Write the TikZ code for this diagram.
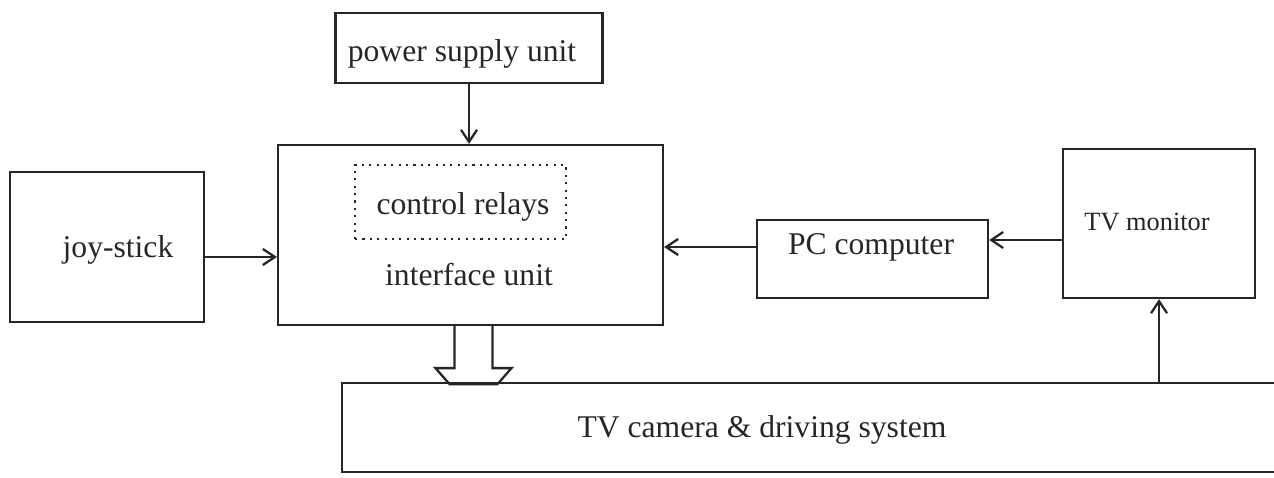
\documentclass[tikz,border=0pt]{standalone}
\usepackage{fontspec}
\setmainfont{Liberation Serif}
\usetikzlibrary{arrows.meta}
\begin{document}
\begin{tikzpicture}[x = .02cm, y = -.02cm, line width = 1.3pt, color = black!85,
		box/.style = {draw, rectangle, inner sep = 0pt, font = \fontsize{18}{20}\selectfont},
		txt/.style = {inner sep = 0pt, font = \fontsize{18}{20}\selectfont},
		arr/.style = {-{Straight Barb[length = 2.4mm, width = 3.2mm]}}]
				\useasboundingbox (0, 0) rectangle (1274, 477);
				\node[box, minimum width = 5.34cm, minimum height = 1.4cm] (psu) at (469, 48) {};
				\node[txt] (psulbl) at (462, 54) {power supply unit};
				\node[box, minimum width = 3.88cm, minimum height = 3cm] (joy) at (107, 247) {};
				\node[txt] (joylbl) at (118, 250) {joy-stick};
				\node[box, minimum width = 7.7cm, minimum height = 3.6cm] (iface) at (470.5, 235) {};
				\node[box, line width = 1pt, dash pattern = on 1.2pt off 3pt, minimum width = 4.22cm, minimum height = 1.48cm] (relay) at (460.5, 202) {};
				\node[txt] (relaylbl) at (463, 207) {control relays};
				\node[txt] (ifacelbl) at (469, 275) {interface unit};
				\node[box, minimum width = 4.62cm, minimum height = 1.56cm] (pc) at (872.5, 259) {};
				\node[txt] (pclbl) at (871, 247) {PC computer};
				\node[box, minimum width = 3.84cm, minimum height = 2.98cm] (mon) at (1159, 223.5) {};
				\node[txt, font = \fontsize{15}{17}\selectfont] (monlbl) at (1147, 222) {TV monitor};
				\node[txt, minimum height = 1.78cm] (cam) at (762, 430) {TV camera \& driving system};
				% camera box runs off the right edge
				\draw (1290, 383) -| (342, 472) -- (1290, 472);
				\draw[arr] (psu.south) -- (psu.south |- iface.north);
				\draw[arr] ([yshift = -.2cm]joy.east) -- ([yshift = -.2cm]joy.east -| iface.west);
				\draw[arr] ([yshift = .24cm]pc.west) -- ([yshift = .24cm]pc.west -| iface.east);
				\draw[arr] ([yshift = -.33cm]mon.west) -- ([yshift = -.33cm]mon.west -| pc.east);
				\draw[arr] (mon.south |- 0, 383) -- (mon.south);
				% hollow arrow down to the camera
				\draw ([xshift = .06cm]iface.south) ++(-19, 0) -- ++(0, 42) -- ++(-19, 0) -- ++(14, 16) -- ++(48, 0) -- ++(14, -16) -- ++(-19, 0) -- ++(0, -42);
			\end{tikzpicture}
\end{document}
